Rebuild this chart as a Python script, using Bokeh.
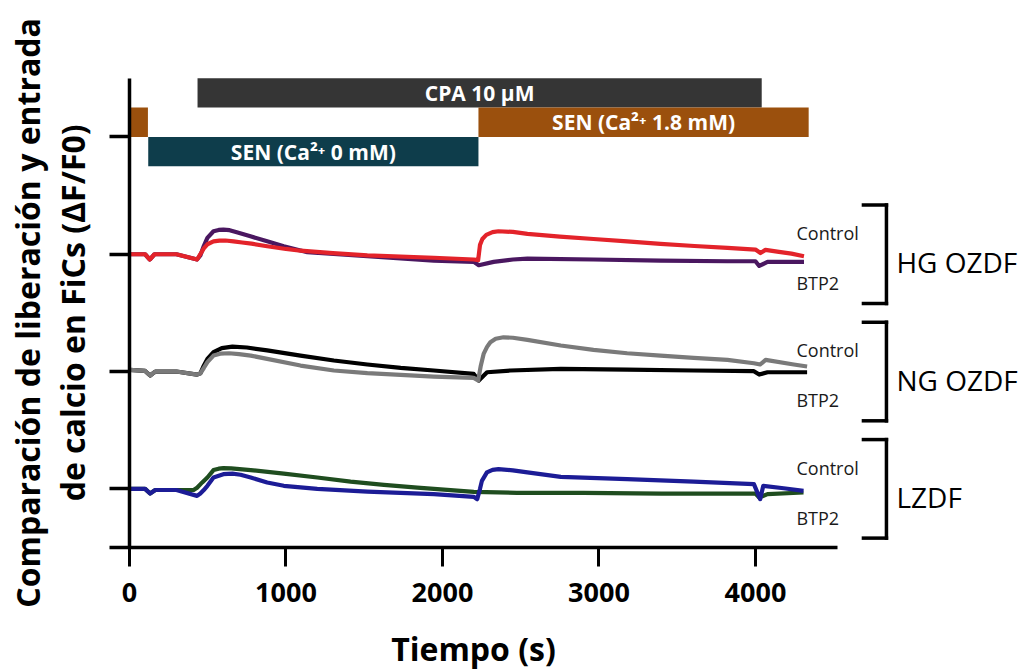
import numpy as np
from bokeh.plotting import figure
from bokeh.models import Range1d, FixedTicker, CustomJSTickFormatter, Label
from bokeh.core.properties import value
from bokeh.embed import file_html
from bokeh.resources import INLINE

# ---------------- data (time in s, ΔF/F0 relative to each group's baseline) ----------------
x_ticks = [0, 1000, 2000, 3000, 4000]
y_ticks = [0, 1, 2, 3]

group_names = ["HG OZDF", "NG OZDF", "LZDF"]
group_baselines = [2, 1, 0]

hg_control_t = [0, 100, 130, 160, 300, 432, 453, 475, 498, 537, 575, 613, 665, 720, 780, 880, 1000, 1093, 1300, 1520, 1945, 2200, 2228, 2240, 2255, 2280, 2320, 2358, 2450, 2543, 2750, 2965, 3180, 3393, 3610, 3821, 4000, 4032, 4064, 4150, 4230, 4310]
hg_control_v = [0.0, 0.0, -0.045, 0.0, 0.0, -0.045, 0.0, 0.05, 0.085, 0.11, 0.116, 0.117, 0.11, 0.1, 0.09, 0.068, 0.045, 0.03, 0.01, -0.01, -0.03, -0.045, -0.05, 0.08, 0.13, 0.165, 0.188, 0.196, 0.19, 0.173, 0.15, 0.13, 0.11, 0.088, 0.07, 0.054, 0.04, 0.01, 0.037, 0.02, 0.005, -0.017]
hg_btp2_t = [0, 100, 130, 160, 300, 432, 453, 475, 498, 537, 570, 600, 640, 680, 773, 880, 986, 1137, 1520, 1945, 2200, 2232, 2327, 2450, 2543, 2965, 3393, 3821, 4000, 4024, 4077, 4310]
hg_btp2_v = [0.0, 0.0, -0.045, 0.0, 0.0, -0.045, -0.01, 0.07, 0.14, 0.196, 0.207, 0.21, 0.205, 0.19, 0.153, 0.11, 0.068, 0.017, -0.017, -0.054, -0.065, -0.094, -0.065, -0.045, -0.037, -0.045, -0.054, -0.06, -0.06, -0.1, -0.065, -0.065]

ng_control_t = [0, 100, 132, 165, 300, 432, 453, 475, 498, 537, 580, 637, 700, 775, 880, 1093, 1306, 1520, 1945, 2200, 2228, 2245, 2263, 2285, 2306, 2340, 2390, 2450, 2543, 2756, 2965, 3180, 3393, 3605, 3821, 3990, 4030, 4065, 4245, 4330]
ng_control_v = [0.015, 0.005, -0.034, 0.0, 0.0, -0.026, -0.015, 0.03, 0.08, 0.136, 0.152, 0.156, 0.148, 0.136, 0.108, 0.051, 0.009, -0.014, -0.043, -0.054, -0.077, 0.05, 0.15, 0.21, 0.25, 0.28, 0.292, 0.288, 0.27, 0.222, 0.185, 0.156, 0.136, 0.117, 0.1, 0.071, 0.06, 0.1, 0.06, 0.043]
ng_btp2_t = [0, 100, 132, 165, 300, 432, 453, 475, 498, 537, 590, 658, 750, 880, 1093, 1306, 1520, 1733, 1945, 2200, 2232, 2285, 2435, 2756, 3180, 3605, 3990, 4024, 4077, 4330]
ng_btp2_v = [0.015, 0.005, -0.034, 0.0, 0.0, -0.026, -0.015, 0.05, 0.108, 0.165, 0.2, 0.213, 0.205, 0.18, 0.136, 0.094, 0.06, 0.031, 0.009, -0.02, -0.077, -0.006, 0.009, 0.023, 0.017, 0.009, 0.003, -0.026, -0.006, -0.006]

lz_control_t = [0, 100, 132, 165, 300, 432, 453, 475, 498, 537, 600, 658, 710, 775, 880, 986, 1200, 1520, 1945, 2200, 2222, 2240, 2252, 2284, 2320, 2358, 2450, 2543, 2756, 3180, 3605, 3990, 4030, 4050, 4180, 4307]
lz_control_v = [0.0, 0.0, -0.04, -0.01, -0.01, -0.06, -0.04, -0.01, 0.026, 0.097, 0.125, 0.13, 0.12, 0.097, 0.054, 0.026, 0.0, -0.023, -0.045, -0.068, -0.088, 0.0, 0.068, 0.14, 0.162, 0.168, 0.158, 0.14, 0.102, 0.083, 0.062, 0.04, -0.088, 0.026, 0.005, -0.017]
lz_btp2_t = [0, 100, 132, 165, 300, 410, 432, 465, 498, 537, 570, 600, 650, 775, 986, 1200, 1413, 1626, 1839, 2052, 2200, 2476, 2900, 3400, 3800, 4000, 4024, 4077, 4307]
lz_btp2_v = [0.0, 0.0, -0.04, -0.01, -0.01, -0.01, 0.01, 0.055, 0.097, 0.16, 0.172, 0.176, 0.174, 0.16, 0.13, 0.097, 0.062, 0.034, 0.011, -0.011, -0.026, -0.034, -0.035, -0.04, -0.04, -0.04, -0.074, -0.045, -0.031]

# protocol bars: (start s, end s)
bar_labels = ["CPA 10 \u03bcM", "", "SEN (Ca\u00b2\u207a 0 mM)", "SEN (Ca\u00b2\u207a 1.8 mM)"]
bar_start = [435, 0, 120, 2230]
bar_end = [4040, 118, 2230, 4340]
bar_level = [3.25, 3.0, 2.75, 3.0]

y_title_lines = ["Comparaci\u00f3n de liberaci\u00f3n y entrada", "de calcio en FiCs (\u0394F/F0)"]

# ---------------- styles ----------------
FONT = "Open Sans"
bar_colors = ["#353535", "#9b500d", "#0e3d4b", "#9b500d"]
control_colors = ["#e3232a", "#7a7a7a", "#1c1c96"]
btp2_colors = ["#4a1760", "#000000", "#1f4d1f"]
bar_h = 0.25

p = figure(width=1034, height=669,
           x_range=Range1d(-824, 5783), y_range=Range1d(-1.54, 4.163),
           output_backend="svg", toolbar_location=None,
           min_border_left=0, min_border_right=0, min_border_top=0, min_border_bottom=0)
p.grid.visible = False
p.outline_line_color = None
p.background_fill_color = "white"

# x axis, drawn at y = -0.5
xa = p.xaxis[0]
xa.fixed_location = -0.5
xa.ticker = FixedTicker(ticks=x_ticks)
xa.bounds = (-128, 4524)
xa.axis_line_width = 3.5
xa.axis_line_color = "black"
xa.major_tick_line_width = 3
xa.major_tick_line_color = "black"
xa.major_tick_out = 19
xa.major_tick_in = 0
xa.minor_tick_line_color = None
xa.major_label_text_font = FONT
xa.major_label_text_font_size = "27px"
xa.major_label_text_font_style = "bold"
xa.major_label_text_color = "black"
xa.major_label_standoff = 16
xa.axis_label = "Tiempo (s)"
xa.axis_label_text_font = FONT
xa.axis_label_text_font_size = "32px"
xa.axis_label_text_font_style = "bold"
xa.axis_label_text_color = "black"
xa.axis_label_standoff = 22

# y axis at x = 0 (no tick labels)
ya = p.yaxis[0]
ya.fixed_location = 0
ya.ticker = FixedTicker(ticks=y_ticks)
ya.formatter = CustomJSTickFormatter(code="return '';")
ya.bounds = (-0.5, 3.5)
ya.axis_line_width = 3.5
ya.axis_line_color = "black"
ya.major_tick_line_width = 3.5
ya.major_tick_line_color = "black"
ya.major_tick_out = 20
ya.major_tick_in = 0
ya.minor_tick_line_color = None

# y title (two lines, rotated)
for tx, line in zip([-650, -365], y_title_lines):
    p.add_layout(Label(x=tx, y=1.5, text=line, angle=np.pi / 2, angle_units="rad",
                       text_align="center", text_baseline="middle",
                       text_font=FONT, text_font_size="32px", text_font_style="bold",
                       text_color="black"))

# protocol bars
for lab, s, e, lv, c in zip(bar_labels, bar_start, bar_end, bar_level, bar_colors):
    p.quad(left=[s], right=[e], bottom=[lv], top=[lv + bar_h], fill_color=c, line_color=None)
    if lab:
        p.text(x=[(s + e) / 2], y=[lv + bar_h / 2], text=[lab], text_align="center", text_baseline="middle",
               text_font=value(FONT), text_font_size="21px", text_font_style="bold", text_color="white")

# traces
series = [
    (hg_btp2_t, hg_btp2_v, hg_control_t, hg_control_v),
    (ng_btp2_t, ng_btp2_v, ng_control_t, ng_control_v),
    (lz_btp2_t, lz_btp2_v, lz_control_t, lz_control_v),
]
for i, (bt, bv, ct, cv) in enumerate(series):
    base = group_baselines[i]
    p.line(bt, np.array(bv) + base, line_color=btp2_colors[i], line_width=4.2, line_join="round")
    p.line(ct, np.array(cv) + base, line_color=control_colors[i], line_width=4.2, line_join="round")

# labels and brackets
lab_x = 4262
br_x = 4837
br_tick_x = 4690
br_half = 0.42
name_x = 4901
for i, name in enumerate(group_names):
    base = group_baselines[i]
    p.text(x=[lab_x], y=[base + 0.18], text=["Control"], text_align="left", text_baseline="middle",
           text_font=value(FONT), text_font_size="18px", text_color="#1a1a1a")
    p.text(x=[lab_x], y=[base - 0.245], text=["BTP2"], text_align="left", text_baseline="middle",
           text_font=value(FONT), text_font_size="18px", text_color="#1a1a1a")
    p.segment(x0=[br_x, br_tick_x, br_tick_x], y0=[base - br_half, base + br_half, base - br_half],
              x1=[br_x, br_x, br_x], y1=[base + br_half, base + br_half, base - br_half],
              line_color="black", line_width=3.5, line_cap="square")
    p.text(x=[name_x], y=[base - 0.07], text=[name], text_align="left", text_baseline="middle",
           text_font=value(FONT), text_font_size="28px", text_color="black")

open("out.html", "w").write(file_html(p, INLINE))
